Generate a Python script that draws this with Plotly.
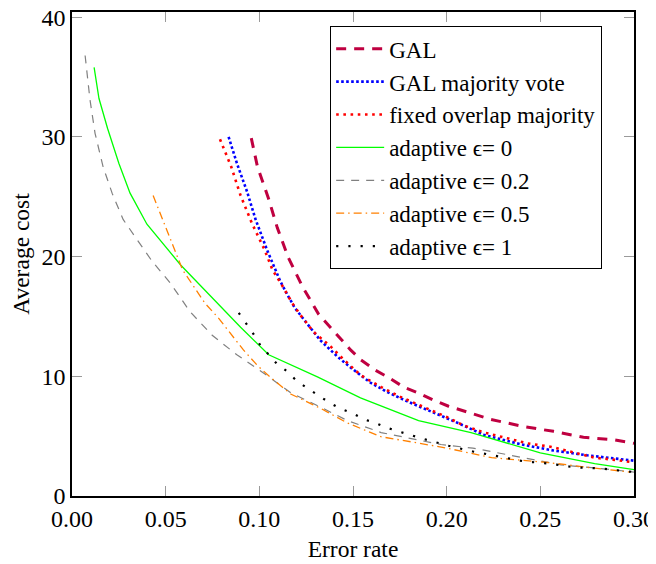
import plotly.graph_objects as go

# ---- data ----
gal_x = [0.0957, 0.099, 0.1048, 0.1096, 0.1155, 0.123, 0.1316, 0.138, 0.1487, 0.154, 0.162, 0.169,
         0.177, 0.185, 0.193, 0.201, 0.2235, 0.241, 0.257, 0.273, 0.289, 0.300]
gal_y = [29.9, 27.5, 24.9, 22.4, 19.9, 17.5, 15.2, 14.1, 12.2, 11.4, 10.5, 9.9,
         9.1, 8.6, 8.0, 7.5, 6.4, 5.8, 5.4, 4.9, 4.7, 4.4]

galmv_x = [0.0836, 0.088, 0.0935, 0.098, 0.104, 0.111, 0.115, 0.119, 0.1255, 0.1326, 0.142, 0.149,
           0.159, 0.168, 0.179, 0.193, 0.206, 0.220, 0.240, 0.257, 0.275, 0.300]
galmv_y = [30.0, 27.8, 25.4, 23.1, 20.6, 18.0, 16.8, 15.7, 14.4, 13.0, 11.6, 10.7,
           9.5, 8.7, 7.9, 7.0, 6.1, 5.1, 4.3, 3.8, 3.4, 2.95]

fixed_x = [0.079, 0.085, 0.090, 0.096, 0.1027, 0.107, 0.1125, 0.1176, 0.122, 0.129, 0.138, 0.145,
           0.154, 0.165, 0.175, 0.188, 0.200, 0.209, 0.220, 0.233, 0.243, 0.256, 0.268, 0.279, 0.291, 0.300]
fixed_y = [29.8, 27.5, 25.1, 22.8, 20.6, 18.9, 17.5, 16.1, 15.1, 13.7, 12.5, 11.4,
           10.1, 9.1, 8.3, 7.4, 6.6, 5.9, 5.3, 4.8, 4.4, 4.1, 3.6, 3.2, 3.0, 2.8]

eps0_x = [0.0118, 0.0144, 0.019, 0.025, 0.031, 0.040, 0.058, 0.074, 0.090, 0.105, 0.131, 0.154,
          0.185, 0.213, 0.2235, 0.250, 0.279, 0.300]
eps0_y = [35.8, 33.2, 30.7, 27.8, 25.3, 22.7, 19.3, 16.7, 14.1, 11.8, 9.95, 8.2,
          6.3, 5.3, 4.8, 3.6, 2.7, 2.2]

eps02_x = [0.007, 0.0096, 0.0123, 0.0166, 0.0214, 0.0273, 0.0348, 0.0428, 0.0524, 0.063, 0.075, 0.088,
           0.102, 0.117, 0.133, 0.147, 0.165, 0.182, 0.197, 0.214, 0.238, 0.261, 0.282, 0.300]
eps02_y = [36.8, 33.1, 30.3, 27.5, 25.3, 23.1, 21.4, 19.6, 17.8, 15.4, 13.4, 11.8,
           10.3, 8.6, 7.4, 6.3, 5.3, 4.8, 4.3, 4.0, 3.3, 2.6, 2.3, 2.0]

eps05_x = [0.0433, 0.047, 0.051, 0.055, 0.059, 0.065, 0.071, 0.078, 0.0845, 0.0915, 0.099, 0.106,
           0.117, 0.133, 0.147, 0.165, 0.182, 0.200, 0.224, 0.254, 0.275, 0.298]
eps05_y = [25.1, 23.6, 22.0, 20.4, 18.9, 17.5, 16.1, 14.9, 13.6, 12.2, 10.9, 9.9,
           8.5, 7.3, 6.1, 4.95, 4.5, 4.0, 3.2, 2.8, 2.4, 2.0]

eps1_x = [0.089, 0.097, 0.1005, 0.105, 0.1096, 0.115, 0.120, 0.1257, 0.1316, 0.1374, 0.1433, 0.150,
          0.156, 0.162, 0.168, 0.175, 0.182, 0.188, 0.201, 0.2145, 0.228, 0.241, 0.255, 0.268,
          0.282, 0.295, 0.300]
eps1_y = [15.3, 13.5, 12.6, 11.8, 11.0, 10.4, 9.6, 9.0, 8.4, 7.8, 7.3, 6.9,
          6.4, 6.1, 5.7, 5.35, 5.0, 4.75, 4.2, 3.7, 3.3, 2.9, 2.7, 2.4,
          2.3, 2.1, 2.0]

x_ticks = [0.00, 0.05, 0.10, 0.15, 0.20, 0.25, 0.30]
x_tick_labels = ["0.00", "0.05", "0.10", "0.15", "0.20", "0.25", "0.30"]
y_ticks = [0, 10, 20, 30, 40]

series = [
    ("GAL", gal_x, gal_y, "#BF0040", 3, "10px,8px"),
    ("GAL majority vote", galmv_x, galmv_y, "#0000FF", 2.6, "2.6px,2.4px"),
    ("fixed overlap majority", fixed_x, fixed_y, "#FF0000", 2.6, "2.6px,4.6px"),
    ("adaptive \u03f5= 0", eps0_x, eps0_y, "#00FF00", 1.3, "solid"),
    ("adaptive \u03f5= 0.2", eps02_x, eps02_y, "#808080", 1.2, "8px,7px"),
    ("adaptive \u03f5= 0.5", eps05_x, eps05_y, "#FF8000", 1.3, "8px,4px,1.5px,4px"),
    ("adaptive \u03f5= 1", eps1_x, eps1_y, "#000000", 2.2, "2.2px,10px"),
]

FONT = "Liberation Serif, Times New Roman, serif"

fig = go.Figure()
for name, xs, ys, color, width, dash in series:
    fig.add_trace(go.Scatter(x=xs, y=ys, mode="lines", name=name,
                             line=dict(color=color, width=width, dash=dash)))

axis_common = dict(
    showgrid=False, zeroline=False, automargin=False,
    showline=True, linecolor="black", linewidth=1.5, mirror="ticks",
    ticks="inside", ticklen=10, tickwidth=1.2, tickcolor="#9a9a9a",
    ticklabeloverflow="allow",
    tickfont=dict(family=FONT, size=24, color="black"),
)

fig.update_layout(
    width=648, height=556,
    margin=dict(l=64, r=22, t=4, b=68),
    paper_bgcolor="white", plot_bgcolor="white",
    font=dict(family=FONT, size=24, color="black"),
    xaxis=dict(range=[0, 0.30], tickvals=x_ticks, ticktext=x_tick_labels,
               title=dict(text="Error rate", font=dict(family=FONT, size=23.5), standoff=10),
               **axis_common),
    yaxis=dict(range=[0, 40.43], tickvals=y_ticks,
               title=dict(text="Average cost", font=dict(family=FONT, size=23.5), standoff=10),
               **axis_common),
    legend=dict(x=0.459, y=0.971, xanchor="left", yanchor="top",
                bgcolor="white", bordercolor="black", borderwidth=1.2,
                itemwidth=48,
                font=dict(family=FONT, size=23), tracegroupgap=0),
    showlegend=True,
)

fig.write_html("out.html")
